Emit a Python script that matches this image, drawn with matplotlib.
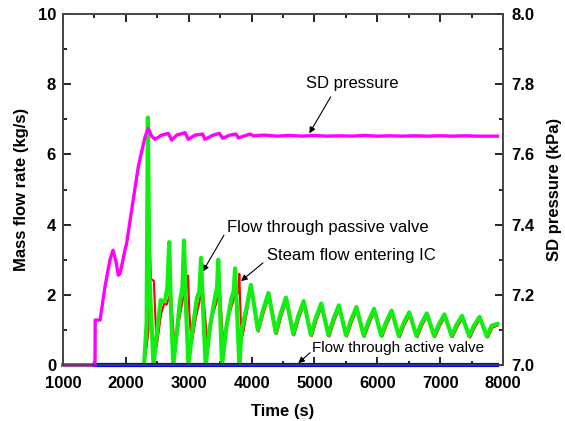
import matplotlib
matplotlib.use('Agg')
import matplotlib.pyplot as plt
from matplotlib.ticker import MultipleLocator

# flow through passive valve (kg/s)
t_passive = [1000, 2290, 2330, 2350, 2375, 2440,
             2500, 2555, 2590, 2625, 2660, 2690, 2720, 2755,
             2810, 2860, 2900, 2925, 2960, 2995,
             3060, 3130, 3170, 3196, 3230, 3270,
             3340, 3420, 3450, 3470, 3500, 3530,
             3600, 3680, 3715, 3737, 3770, 3805,
             3843, 3923, 3988, 4028,
             4100, 4180, 4268, 4385, 4460, 4548, 4663, 4740, 4828,
             4943, 5020, 5108, 5223, 5300, 5388, 5503, 5580, 5668,
             5783, 5860, 5948, 6063, 6140, 6228, 6343, 6420, 6508,
             6623, 6700, 6788, 6903, 6980, 7068, 7183, 7260, 7348,
             7463, 7540, 7628, 7743, 7820, 7910]
m_passive = [0, 0, 1.2, 7.05, 2.5, 0,
             1.0, 1.85, 1.8, 1.85, 2.2, 3.5, 1.5, 0,
             0.9, 1.8, 2.2, 3.55, 1.5, 0,
             1.0, 1.9, 2.1, 3.05, 1.5, 0,
             1.1, 1.95, 2.2, 3.0, 1.5, 0,
             1.1, 1.9, 2.1, 2.75, 1.5, 0,
             1.0, 1.66, 2.28, 1.85,
             1.0, 1.55, 2.05, 0.92, 1.45, 1.92, 0.88, 1.38, 1.82,
             0.86, 1.33, 1.75, 0.85, 1.3, 1.7, 0.85, 1.27, 1.65,
             0.84, 1.24, 1.6, 0.84, 1.22, 1.55, 0.83, 1.2, 1.5,
             0.83, 1.18, 1.47, 0.83, 1.16, 1.44, 0.83, 1.14, 1.4,
             0.82, 1.13, 1.37, 0.82, 1.12, 1.17]

# steam flow entering IC (kg/s)
t_steam = [1000, 2290, 2330, 2360, 2378, 2400, 2445, 2490,
           2560, 2610, 2650, 2700, 2715, 2760, 2790,
           2850, 2910, 2960, 2990, 3010, 3045,
           3120, 3190, 3230, 3270, 3300,
           3380, 3460, 3500, 3535, 3565,
           3640, 3720, 3790, 3805, 3830, 3860,
           3930, 3995, 4040, 4110,
           4195, 4283, 4400, 4475, 4563, 4678, 4755, 4843,
           4958, 5035, 5123, 5238, 5315, 5403, 5518, 5595, 5683,
           5798, 5875, 5963, 6078, 6155, 6243, 6358, 6435, 6523,
           6638, 6715, 6803, 6918, 6995, 7083, 7198, 7275, 7363,
           7478, 7555, 7643, 7758, 7835, 7910]
m_steam = [0, 0, 0.5, 1.0, 3.6, 2.45, 2.4, 0.5,
           1.45, 1.75, 1.72, 2.0, 2.05, 0.9, 0.6,
           1.3, 1.9, 2.1, 2.55, 1.5, 0.6,
           1.4, 1.95, 2.05, 1.2, 0.6,
           1.4, 1.9, 2.05, 1.0, 0.6,
           1.4, 1.9, 2.05, 2.6, 1.2, 0.85,
           1.55, 2.25, 1.7, 0.95,
           1.5, 2.0, 0.88, 1.4, 1.87, 0.84, 1.33, 1.77,
           0.82, 1.28, 1.7, 0.81, 1.25, 1.65, 0.81, 1.22, 1.6,
           0.8, 1.19, 1.55, 0.8, 1.17, 1.5, 0.79, 1.15, 1.45,
           0.79, 1.13, 1.42, 0.79, 1.11, 1.39, 0.79, 1.09, 1.35,
           0.78, 1.08, 1.32, 0.78, 1.07, 1.12]

# flow through active valve (kg/s)
t_active = [1500, 7910]
m_active = [0, 0]

# SD pressure (kPa)
t_sd = [1000, 1509, 1512, 1590, 1668, 1748, 1795, 1843, 1880, 1907,
        1986, 2013, 2093, 2198, 2305, 2357, 2410, 2464, 2570, 2676,
        2729, 2810, 2941, 2994, 3100, 3222, 3259, 3392, 3487, 3540,
        3657, 3752, 3790, 3975, 4028, 4200, 4400, 4600, 4800, 5000,
        5200, 5400, 5600, 5800, 6000, 6200, 6400, 6600, 6800, 7000,
        7200, 7400, 7600, 7800, 7910]
p_sd = [7.0, 7.0, 7.128, 7.128, 7.223, 7.30, 7.327, 7.295, 7.256, 7.26,
        7.327, 7.347, 7.442, 7.565, 7.65, 7.674, 7.652, 7.643, 7.655, 7.66,
        7.641, 7.655, 7.662, 7.643, 7.655, 7.658, 7.643, 7.655, 7.66, 7.646,
        7.655, 7.658, 7.647, 7.658, 7.653, 7.655, 7.652, 7.654, 7.652, 7.654,
        7.652, 7.653, 7.652, 7.654, 7.652, 7.653, 7.652, 7.653, 7.652, 7.653,
        7.652, 7.653, 7.652, 7.652, 7.652]

plt.rcParams['font.family'] = ['Liberation Sans', 'DejaVu Sans']

fig = plt.figure(figsize=(5.65, 4.21), dpi=100)
ax = fig.add_axes([63/565, 56/421, 440/565, 351/421])
ax2 = ax.twinx()

# flow curves on the left axis (not clipped, they sit on the x axis)
ax.plot(t_active, m_active, color='#0000ff', lw=3, zorder=5, clip_on=False)
ax.plot(t_steam, m_steam, color='#ff0000', lw=1.5, zorder=3, clip_on=False)
ax.plot(t_passive, m_passive, color='#11ee11', lw=3, zorder=4, clip_on=False)

# pressure on the right axis
ax2.plot(t_sd, p_sd, color='#ff00ff', lw=2.4, clip_on=False)

ax.set_xlim(1000, 8000)
ax.set_ylim(0, 10)
ax2.set_ylim(7.0, 8.0)

ax.xaxis.set_major_locator(MultipleLocator(1000))
ax.xaxis.set_minor_locator(MultipleLocator(500))
ax.yaxis.set_major_locator(MultipleLocator(2))
ax.yaxis.set_minor_locator(MultipleLocator(1))
ax2.yaxis.set_major_locator(MultipleLocator(0.2))
ax2.yaxis.set_minor_locator(MultipleLocator(0.1))

ax.tick_params(which='both', direction='in', top=True, right=False, width=1.2)
ax.tick_params(which='major', length=6, labelsize=12, pad=5)
ax.tick_params(axis='x', which='major', pad=8)
ax.tick_params(which='minor', length=3)
ax2.tick_params(which='both', direction='in', width=1.2)
ax2.tick_params(which='major', length=6, labelsize=12, pad=6)
ax2.tick_params(which='minor', length=3)
for a in (ax, ax2):
    for lab in a.get_xticklabels() + a.get_yticklabels():
        lab.set_fontweight('bold')
    for s in a.spines.values():
        s.set_color('#444444')
        s.set_linewidth(1.2)

ax.set_xlabel('Time (s)', fontsize=12, fontweight='bold', labelpad=9)
ax.set_ylabel('Mass flow rate (kg/s)', fontsize=12, fontweight='bold', labelpad=6)
ax2.set_ylabel('SD pressure (kPa)', fontsize=12, fontweight='bold', labelpad=9)

# labels, each with its own arrow
arrow = dict(arrowstyle='-|>', color='black', lw=0.8, mutation_scale=9,
             shrinkA=0, shrinkB=0)
ax.text(5598, 8.03, 'SD pressure', ha='center', va='center', fontsize=12)
ax.annotate('', xy=(4919, 6.60), xytext=(5259, 7.64), arrowprops=arrow)
ax.text(5213, 3.93, 'Flow through passive valve', ha='center', va='center', fontsize=12)
ax.annotate('', xy=(3223, 2.66), xytext=(3561, 3.70), arrowprops=arrow)
ax.text(5580, 3.13, 'Steam flow entering IC', ha='center', va='center', fontsize=12)
ax.annotate('', xy=(3832, 2.39), xytext=(4182, 2.91), arrowprops=arrow)
ax.text(6330, 0.49, 'Flow through active valve', ha='center', va='center', fontsize=11)
ax.annotate('', xy=(4743, 0.05), xytext=(4930, 0.35), arrowprops=arrow)

fig.savefig('out.png', dpi=100)
